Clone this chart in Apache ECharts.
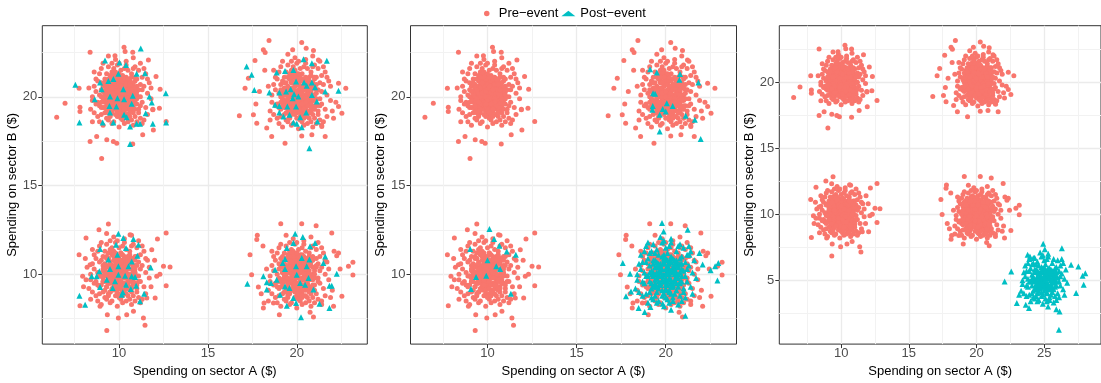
<!DOCTYPE html>
<html><head><meta charset="utf-8">
<script src="https://cdn.jsdelivr.net/npm/echarts@6/dist/echarts.min.js"></script>
<style>html,body{margin:0;padding:0;background:#fff}#c{width:1101px;height:383px}</style>
</head><body><div id="c"></div>
<script>
// ---- Pre-event clusters (shared by all three panels) ----
const preA = [[10.2,20.1],[9.6,19.8],[10.8,20.4],[9.1,20.6],[10.5,19.3],[9.9,21.2],[11.2,20.0],[8.9,19.5],[10.0,19.0],[10.6,21.0],[9.4,20.2],[10.3,20.8],[9.8,19.4],[11.0,19.6],[9.2,21.0],[10.7,19.9],[9.5,18.9],[10.1,21.5],[8.7,20.3],[11.4,20.6],[10.4,19.6],[9.7,20.6],[10.9,20.9],[9.3,19.2],[10.0,20.3],[11.1,19.1],[8.8,20.9],[10.2,18.7],[9.6,21.4],[10.8,19.4],[9.0,20.0],[10.5,20.6],[9.9,19.9],[11.6,20.2],[9.4,21.7],[10.3,19.2],[8.5,19.8],[10.7,21.3],[9.7,18.6],[11.3,21.1],[10.1,20.0],[9.2,19.7],[10.6,18.9],[9.5,20.9],[10.9,20.2],[8.9,21.3],[10.4,21.8],[9.8,20.5],[11.0,18.6],[9.3,20.4],[10.2,19.5],[8.6,20.6],[11.5,19.4],[9.6,19.1],[10.8,21.6],[9.1,18.4],[10.0,21.0],[11.2,20.7],[9.7,20.0],[10.5,19.0],[8.4,19.3],[10.3,20.3],[9.4,18.7],[11.8,19.9],[9.9,21.8],[10.6,20.1],[9.0,21.6],[10.9,18.9],[9.5,19.6],[10.1,19.3],[11.3,20.4],[8.8,18.9],[10.4,20.9],[9.8,22.1],[10.7,19.2],[9.2,20.3],[11.1,21.5],[9.6,20.7],[10.0,18.3],[10.8,20.0],[8.7,21.0],[11.6,19.0],[9.3,21.3],[10.2,21.2],[9.9,18.9],[10.5,20.3],[9.0,19.0],[11.0,20.3],[9.7,21.1],[10.3,18.5],[8.5,20.0],[10.6,19.7],[9.4,19.4],[11.4,21.6],[10.0,20.6],[9.1,20.0],[10.9,19.6],[9.8,20.2],[10.4,22.0],[9.5,21.2],[11.2,18.8],[8.9,20.1],[10.1,19.7],[9.6,18.5],[10.7,20.7],[11.7,20.8],[9.2,19.1],[10.3,21.6],[9.9,20.4],[10.5,18.6],[8.6,19.1],[11.0,21.0],[9.4,20.0],[10.2,20.4],[9.7,19.3],[10.8,18.4],[9.0,20.8],[11.3,19.7],[10.0,21.9],[9.3,18.8],[10.6,20.4],[8.8,19.7],[11.5,21.3],[9.8,19.6],[10.4,19.0],[9.5,20.5],[10.9,21.7],[9.1,21.9],[10.1,18.8],[11.1,19.3],[9.6,20.3],[10.7,18.7],[8.3,20.5],[10.3,19.9],[9.9,20.9],[11.8,20.5],[9.2,19.9],[10.5,21.5],[9.7,21.6],[10.0,19.5],[11.4,18.7],[8.9,18.6],[10.6,19.3],[9.4,21.0],[10.2,19.0],[9.8,21.4],[11.0,20.6],[9.3,20.0],[10.8,19.1],[8.7,19.6],[10.4,20.5],[9.5,19.0],[11.2,21.9],[9.0,19.4],[10.1,20.8],[9.6,21.9],[10.9,20.0],[11.6,21.0],[9.9,19.2],[10.3,18.9],[8.6,21.4],[10.7,21.1],[9.2,20.6],[11.3,18.5],[10.0,20.1],[9.7,19.7],[10.5,20.0],[8.5,18.6],[11.9,19.3],[9.4,22.3],[10.8,22.2],[9.1,19.4],
[10.0,20.0],[9.8,20.1],[10.3,19.7],[9.5,20.4],[10.6,20.5],[10.1,19.4],[9.7,19.9],[10.4,20.2],[9.9,20.7],[10.2,19.8],[9.3,19.8],[10.7,20.3],[10.0,19.6],[9.6,20.0],[10.5,20.8],[9.8,19.7],[10.9,19.8],[9.4,20.6],[10.3,20.0],[10.1,20.5],[9.7,19.5],[10.6,19.5],[9.5,20.2],[10.2,20.6],[9.9,19.7],[11.0,20.1],[9.2,20.2],[10.4,19.4],[10.0,20.9],[9.6,19.6],[10.8,20.6],[9.8,20.9],[10.3,19.5],[9.4,19.9],[10.6,20.2],[10.1,20.3],[9.7,20.4],[10.5,19.8],[9.9,20.0],[10.2,19.2],[9.1,20.3],[10.7,19.6],[10.0,20.4],[9.5,19.4],[10.4,21.1],[9.8,19.3],[10.9,20.5],[9.3,20.7],[10.3,20.6],[9.6,20.9],[10.1,19.9],[10.6,20.9],[9.9,21.0],[10.0,19.3],[9.4,19.6],[10.8,19.8],[9.7,20.2],[10.4,19.9],[9.2,19.4],[10.2,20.9],[11.1,20.4],[9.5,21.0],[10.5,19.5],[9.8,20.6],[10.3,21.0],[9.0,20.4],[10.7,20.1],[10.0,19.8],[9.6,19.3],[10.9,21.1],[9.3,20.5],[10.1,21.1],[9.9,19.5],[10.6,19.1],[9.7,21.3],[10.4,20.7],[9.4,19.1],[11.0,19.9],[10.2,20.2],[9.8,19.0],[10.5,20.4],[9.1,19.8],[10.8,20.8],[10.0,20.7],[9.6,20.5],[10.3,19.3],[9.5,19.7],[10.7,19.4],[9.9,20.3],[10.1,19.1],[9.2,20.8],[10.6,20.7],[10.4,19.7],[9.7,20.8],[10.0,21.3],[9.3,19.5],[10.9,19.3],[9.8,21.1],[10.2,19.6],[9.5,19.2],[10.5,21.0],[11.2,19.5],[9.4,20.4],[10.3,20.4],[9.9,19.6],[10.7,20.4],[9.0,19.7],[10.1,20.6],[9.6,21.1],[10.8,19.9],
[6.49,18.85],[6.96,19.64],[7.75,20.49],[7.8,19.42],[7.8,19.17],[8.37,22.52],[8.37,17.48],[8.74,17.77],[9.02,16.53],[9.31,17.58],[9.68,17.48],[9.87,17.39],[10.28,22.8],[10.34,22.55],[10.77,22.52],[10.77,17.35],[11.33,17.86],[11.93,18.14],[12.31,20.43],[12.65,18.61],[11.9,19.27],[12.27,19.36],[11.65,22.08],[12.08,21.15],[9.77,22.31]];
const preB = [[20.3,20.2],[19.7,19.6],[20.9,20.5],[19.2,20.9],[20.6,19.2],[20.0,21.3],[21.3,19.9],[19.0,19.4],[20.2,18.9],[20.7,21.1],[19.5,20.1],[20.4,20.7],[19.9,19.3],[21.1,19.5],[19.3,21.1],[20.8,19.8],[19.6,18.8],[20.2,21.6],[18.8,20.4],[21.5,20.7],[20.5,19.5],[19.8,20.5],[21.0,21.0],[19.4,19.1],[20.1,20.2],[21.2,19.0],[18.9,21.0],[20.3,18.6],[19.7,21.5],[20.9,19.3],[19.1,20.0],[20.6,20.5],[20.0,19.8],[21.7,20.1],[19.5,21.8],[20.4,19.1],[18.6,19.7],[20.8,21.4],[19.8,18.5],[21.4,21.2],[20.2,20.0],[19.3,19.7],[20.7,18.8],[19.6,21.0],[21.0,20.1],[19.0,21.4],[20.5,21.9],[19.9,20.6],[21.1,18.5],[19.4,20.3],[20.3,19.4],[18.7,20.7],[21.6,19.3],[19.7,19.0],[20.9,21.7],[19.2,18.3],[20.1,21.1],[21.3,20.8],[19.8,20.0],[20.6,18.9],[18.5,19.2],[20.4,20.4],[19.5,18.6],[21.9,19.8],[20.0,21.9],[20.7,20.0],[19.1,21.7],[21.0,18.8],[19.6,19.5],[20.2,19.2],[21.4,20.3],[18.9,18.8],[20.5,21.0],[19.9,22.2],[20.8,19.1],[19.3,20.2],[21.2,21.6],[19.7,20.8],[20.1,18.2],[20.9,20.1],[18.8,21.1],[21.7,18.9],[19.4,21.4],[20.3,21.3],[20.0,18.8],[20.6,20.2],[19.1,18.9],[21.1,20.4],[19.8,21.2],[20.4,18.4],[18.6,20.1],[20.7,19.6],[19.5,19.3],[21.5,21.7],[20.1,20.7],[19.2,19.9],[21.0,19.5],[19.9,20.1],[20.5,22.1],[19.6,21.3],[21.3,18.7],[19.0,20.2],[20.2,19.6],[19.7,18.4],[20.8,20.8],[21.8,20.9],[19.3,19.0],[20.4,21.7],[20.0,20.3],[20.6,18.5],[18.7,19.0],[21.1,21.1],[19.5,19.9],[20.3,20.5],[19.8,19.2],[20.9,18.3],[19.1,20.7],[21.4,19.6],[20.1,22.0],[19.4,18.7],[20.7,20.3],[18.9,19.6],[21.6,21.4],[19.9,19.5],[20.5,18.9],[19.6,20.4],[21.0,21.8],[19.2,22.0],[20.2,18.7],[21.2,19.2],[19.7,20.2],[20.8,18.6],[18.4,20.6],[20.4,19.8],[20.0,21.0],[21.9,20.6],[19.3,19.8],[20.6,21.6],[19.8,21.7],[20.1,19.4],[21.5,18.6],[19.0,18.5],[20.7,19.2],[19.5,21.1],[20.3,18.9],[19.9,21.5],[21.1,20.7],[19.4,20.1],[20.9,19.0],[18.8,19.5],[20.5,20.6],[19.6,18.9],[21.3,22.0],[19.1,19.3],[20.2,20.9],[19.7,22.0],[21.0,19.9],[21.7,21.1],[20.0,19.1],[20.4,18.8],[18.7,21.5],[20.8,21.2],[19.3,20.5],[21.4,18.4],[20.1,20.1],[19.8,19.8],[20.6,19.9],[18.5,18.7],[22.0,19.2],[19.5,22.4],[20.9,22.3],[19.2,19.5],[17.9,20.3],[17.7,19.6],[22.2,19.7],[18.2,21.5],
[20.1,20.0],[19.9,20.3],[20.4,19.7],[19.6,20.2],[20.7,20.6],[20.2,19.4],[19.8,19.9],[20.5,20.1],[20.0,20.8],[20.3,19.8],[19.4,19.7],[20.8,20.3],[20.1,19.6],[19.7,20.0],[20.6,20.9],[19.9,19.7],[21.0,19.8],[19.5,20.6],[20.4,20.0],[20.2,20.5],[19.8,19.4],[20.7,19.5],[19.6,20.3],[20.3,20.6],[20.0,19.7],[21.1,20.2],[19.3,20.1],[20.5,19.4],[20.1,20.9],[19.7,19.7],[20.9,20.6],[19.9,20.9],[20.4,19.5],[19.5,19.9],[20.7,20.2],[20.2,20.3],[19.8,20.4],[20.6,19.8],[20.0,20.0],[20.3,19.2],[19.2,20.3],[20.8,19.6],[20.1,20.4],[19.6,19.4],[20.5,21.1],[19.9,19.2],[21.0,20.5],[19.4,20.8],[20.4,20.6],[19.7,20.9],[20.2,19.9],[20.7,20.9],[20.0,21.1],[20.1,19.3],[19.5,19.6],[20.9,19.8],[19.8,20.2],[20.5,19.9],[19.3,19.4],[20.3,20.9],[21.2,20.4],[19.6,21.0],[20.6,19.5],[19.9,20.6],[20.4,21.0],[19.1,20.4],[20.8,20.1],[20.1,19.8],[19.7,19.3],[21.0,21.1],[19.4,20.5],[20.2,21.1],[20.0,19.5],[20.7,19.1],[19.8,21.3],[20.5,20.7],[19.5,19.1],[21.1,19.9],[20.3,20.2],[19.9,19.0],[20.6,20.4],[19.2,19.8],[20.9,20.8],[20.1,20.7],[19.7,20.5],[20.4,19.3],[19.6,19.7],[20.8,19.4],[20.0,20.3],[20.2,19.1],[19.3,20.8],[20.7,20.7],[20.5,19.7],[19.8,20.8],[20.1,21.3],[19.4,19.5],[21.0,19.3],[19.9,21.1],[20.3,19.6],[19.6,19.2],[20.6,21.0],[21.3,19.5],[19.5,20.4],[20.4,20.4],[20.0,19.6],[20.8,20.4],[19.1,19.7],[20.2,20.6],[19.7,21.1],[20.9,19.9],
[16.77,18.93],[17.09,20.49],[18.44,23.17],[20.28,23.06],[18.12,22.65],[18.22,22.5],[19.77,22.65],[20.53,22.74],[20.94,22.61],[17.65,22.05],[17.28,21.05],[22.76,20.49],[22.35,20.77],[22.54,19.08],[22.35,19.46],[21.6,17.77],[19.34,17.39],[18.59,17.77],[17.75,18.52],[17.56,18.99],[18.31,18.24],[20.28,17.8],[20.85,17.86],[21.41,18.33],[22.07,18.8],[21.22,22.08]];
const preC = [[10.1,10.2],[9.5,9.7],[10.7,10.6],[9.0,10.8],[10.4,9.2],[9.8,11.2],[11.1,9.9],[8.8,9.4],[9.9,8.9],[10.5,11.0],[9.3,10.1],[10.2,10.7],[9.7,9.3],[10.9,9.5],[9.1,11.0],[10.6,9.8],[9.4,8.8],[10.0,11.5],[8.6,10.3],[11.3,10.5],[10.3,9.5],[9.6,10.5],[10.8,10.9],[9.2,9.1],[9.9,10.2],[11.0,9.0],[8.7,10.9],[10.1,8.6],[9.5,11.4],[10.7,9.3],[8.9,9.9],[10.4,10.5],[9.8,9.8],[11.5,10.1],[9.3,11.7],[10.2,9.1],[8.4,9.7],[10.6,11.3],[9.6,8.5],[11.2,11.1],[10.0,9.9],[9.1,9.6],[10.5,8.8],[9.4,10.9],[10.8,10.1],[8.8,11.3],[10.3,11.8],[9.7,10.4],[10.9,8.5],[9.2,10.3],[10.1,9.4],[8.5,10.6],[11.4,9.3],[9.5,9.0],[10.7,11.6],[9.0,8.3],[9.9,11.0],[11.1,10.7],[9.6,9.9],[10.4,8.9],[8.3,9.2],[10.2,10.3],[9.3,8.6],[11.7,9.8],[9.8,11.8],[10.5,10.0],[8.9,11.6],[10.8,8.8],[9.4,9.5],[10.0,9.2],[11.2,10.3],[8.7,8.8],[10.3,10.9],[9.7,12.1],[10.6,9.1],[9.1,10.2],[11.0,11.5],[9.5,10.7],[9.9,8.2],[10.7,10.0],[8.6,11.1],[11.5,8.9],[9.2,11.3],[10.1,11.2],[9.8,8.8],[10.4,10.2],[8.9,8.9],[10.9,10.3],[9.6,11.1],[10.2,8.4],[8.4,10.0],[10.5,9.6],[9.3,9.3],[11.3,11.6],[9.9,10.6],[9.0,9.9],[10.8,9.5],[9.7,10.1],[10.3,12.0],[9.4,11.2],[11.1,8.7],[8.8,10.1],[10.0,9.6],[9.5,8.4],[10.6,10.7],[11.6,10.8],[9.1,9.0],[10.2,11.6],[9.8,10.3],[10.4,8.5],[8.5,9.0],[10.9,11.0],[9.3,9.9],[10.1,10.4],[9.6,9.2],[10.7,8.3],[8.9,10.7],[11.2,9.6],[9.9,11.9],[9.2,8.7],[10.5,10.4],[8.7,9.6],[11.4,11.3],[9.7,9.5],[10.3,8.9],[9.4,10.4],[10.8,11.7],[9.0,11.8],[10.0,8.7],[11.0,9.2],[9.5,10.2],[10.6,8.6],[8.2,10.4],[10.2,9.8],[9.8,10.8],[11.7,10.4],[9.1,9.8],[10.4,11.4],[9.6,11.5],[9.9,9.4],[11.3,8.6],[8.8,8.5],[10.5,9.2],[9.3,11.0],[10.1,8.9],[9.7,11.3],[10.9,10.5],[9.2,10.0],[10.7,9.0],[8.6,9.5],[10.3,10.4],[9.4,8.9],[11.1,11.9],[8.9,9.3],[10.0,10.8],[9.5,11.9],[10.8,9.9],[11.5,10.9],[9.8,9.1],[10.2,8.8],[8.5,11.4],[10.6,11.1],[9.1,10.5],[11.2,8.4],[9.9,10.0],[9.6,9.7],[10.4,9.8],[8.4,8.6],[11.8,9.3],[9.3,12.3],[10.7,12.2],[9.0,9.4],[12.3,10.0],[12.0,10.8],[8.0,9.3],[8.1,10.9],
[10.1,10.1],[9.7,10.2],[10.4,9.8],[9.6,10.5],[10.5,10.6],[10.0,9.5],[9.8,10.0],[10.3,10.3],[10.0,10.8],[10.1,9.7],[9.4,9.9],[10.8,10.2],[9.9,9.5],[9.5,10.1],[10.4,10.7],[9.7,9.8],[10.8,9.7],[9.3,10.5],[10.2,10.1],[10.0,10.4],[9.8,9.6],[10.5,9.4],[9.6,10.3],[10.3,10.5],[10.0,9.8],[10.9,10.0],[9.3,10.1],[10.5,9.3],[10.1,10.8],[9.5,9.5],[10.7,10.7],[9.9,10.8],[10.2,9.4],[9.5,9.8],[10.7,10.3],[10.0,10.2],[9.8,10.5],[10.4,9.9],[9.8,10.1],[10.3,9.1],[9.2,10.4],[10.6,9.7],[10.1,10.5],[9.4,9.5],[10.3,11.0],[9.9,9.2],[10.8,10.4],[9.2,10.6],[10.4,10.5],[9.7,10.8],[10.2,10.0],[10.7,10.8],[9.8,10.9],[10.1,9.2],[9.5,9.7],[10.9,9.9],[9.6,10.1],[10.5,10.0],[9.3,9.3],[10.3,10.8],[11.0,10.5],[9.4,10.9],[10.6,9.6],[9.9,10.5],[10.2,11.1],[9.1,10.3],[10.8,10.0],[10.1,9.9],[9.7,9.2],[11.0,11.0],[9.2,10.0],[10.0,11.0],[9.8,9.4],[10.7,9.2],[9.6,11.2],[10.5,10.6],[9.5,9.0],[10.9,10.8],[10.3,10.1],[9.9,9.1],[10.4,10.3],[9.0,9.9],[10.7,10.9],[10.1,10.7],[9.5,10.6],[10.4,9.4],[9.4,9.8],[10.8,9.5],[10.0,10.3],[10.2,9.0],[9.3,10.9],[10.5,10.8],[10.3,9.8],[9.8,10.7],[10.1,11.2],[9.2,9.6],[11.0,9.4],[9.7,11.0],[10.1,9.6],[9.6,9.1],[10.6,11.0],[11.1,9.6],[9.5,10.3],[10.2,10.4],[9.8,9.7],[10.6,10.3],[9.1,9.6],[10.0,10.6],[9.7,11.1],[10.9,10.1],
[9.31,6.83],[11.46,7.13],[11.37,7.54],[9.96,7.54],[9.34,7.73],[7.8,8.23],[7.75,11.11],[8.14,12.05],[8.87,12.52],[9.4,12.84],[10.62,12.23],[12.16,11.99],[12.65,12.33],[12.87,10.41],[12.5,10.45],[12.65,9.36],[12.12,9.89],[11.84,11.39],[11.56,8.67],[12.03,8.67],[8.14,9.7],[7.95,9.89],[8.93,8.2],[10.43,7.73],[10.81,7.92],[8.37,10.54]];
const preD = [[20.2,10.1],[19.6,9.6],[20.8,10.5],[19.1,10.9],[20.5,9.1],[19.9,11.1],[21.2,9.8],[18.9,9.3],[20.0,8.8],[20.6,10.9],[19.4,10.0],[20.3,10.6],[19.8,9.2],[21.0,9.4],[19.2,11.0],[20.7,9.7],[19.5,8.7],[20.1,11.4],[18.7,10.2],[21.4,10.4],[20.4,9.4],[19.7,10.4],[20.9,10.8],[19.3,9.0],[20.0,10.1],[21.1,8.9],[18.8,10.8],[20.2,8.5],[19.6,11.3],[20.8,9.2],[19.0,9.8],[20.5,10.4],[19.9,9.7],[21.6,10.0],[19.4,11.6],[20.3,9.0],[18.5,9.6],[20.7,11.2],[19.7,8.4],[21.3,11.0],[20.1,9.8],[19.2,9.5],[20.6,8.7],[19.5,10.8],[20.9,10.0],[18.9,11.2],[20.4,11.7],[19.8,10.3],[21.0,8.4],[19.3,10.2],[20.2,9.3],[18.6,10.5],[21.5,9.2],[19.6,8.9],[20.8,11.5],[19.1,8.2],[20.0,10.9],[21.2,10.6],[19.7,9.8],[20.5,8.8],[18.4,9.1],[20.3,10.2],[19.4,8.5],[21.8,9.7],[19.9,11.7],[20.6,9.9],[19.0,11.5],[20.9,8.7],[19.5,9.4],[20.1,9.1],[21.3,10.2],[18.8,8.7],[20.4,10.8],[19.8,12.0],[20.7,9.0],[19.2,10.1],[21.1,11.4],[19.6,10.6],[20.0,8.1],[20.8,9.9],[18.7,11.0],[21.6,8.8],[19.3,11.2],[20.2,11.1],[19.9,8.7],[20.5,10.1],[19.0,8.8],[21.0,10.2],[19.7,11.0],[20.3,8.3],[18.5,9.9],[20.6,9.5],[19.4,9.2],[21.4,11.5],[20.0,10.5],[19.1,9.7],[20.9,9.4],[19.8,10.0],[20.4,11.9],[19.5,11.1],[21.2,8.6],[18.9,10.0],[20.1,9.5],[19.6,8.3],[20.7,10.6],[21.7,10.7],[19.2,8.9],[20.3,11.5],[19.9,10.2],[20.5,8.4],[18.6,8.9],[21.1,10.9],[19.4,9.8],[20.2,10.3],[19.7,9.1],[20.8,8.2],[19.0,10.6],[21.3,9.5],[20.0,11.8],[19.3,8.6],[20.6,10.3],[18.8,9.5],[21.5,11.2],[19.8,9.4],[20.4,8.8],[19.5,10.3],[20.9,11.6],[19.1,11.7],[20.1,8.6],[21.0,9.1],[19.6,10.1],[20.7,8.5],[18.3,10.3],[20.3,9.7],[19.9,10.7],[21.8,10.3],[19.2,9.7],[20.5,11.3],[19.7,11.4],[20.0,9.3],[21.4,8.5],[18.9,8.4],[20.6,9.2],[19.4,10.9],[20.2,8.8],[19.8,11.3],[21.1,10.4],[19.3,9.9],[20.8,8.9],[18.7,9.4],[20.4,10.3],[19.5,8.8],[21.2,11.8],[19.0,9.2],[20.1,10.7],[19.6,11.8],[20.9,9.8],[21.6,10.8],[19.9,9.0],[20.3,8.7],[18.6,11.3],[20.7,11.0],[19.2,10.4],[21.4,8.3],[20.0,9.9],[19.7,9.6],[20.5,9.8],[18.4,8.5],[22.0,9.1],[19.4,12.2],[20.8,12.1],[19.1,9.3],[21.9,8.7],[22.1,11.3],[18.1,11.6],[18.0,8.9],
[20.0,10.1],[19.8,10.2],[20.3,9.8],[19.5,10.3],[20.6,10.5],[20.1,9.5],[19.7,10.0],[20.4,10.3],[19.9,10.8],[20.2,9.7],[19.3,9.9],[20.7,10.2],[20.0,9.5],[19.6,10.1],[20.5,10.7],[19.8,9.8],[20.9,9.7],[19.4,10.5],[20.3,10.1],[20.1,10.4],[19.7,9.6],[20.6,9.4],[19.5,10.2],[20.2,10.5],[19.9,9.8],[21.0,10.0],[19.2,10.1],[20.4,9.3],[20.0,10.8],[19.6,9.5],[20.8,10.7],[19.8,10.8],[20.3,9.4],[19.4,9.8],[20.6,10.3],[20.1,10.2],[19.7,10.5],[20.5,9.9],[19.9,10.1],[20.2,9.1],[19.1,10.4],[20.7,9.7],[20.0,10.5],[19.5,9.5],[20.4,11.0],[19.8,9.2],[20.9,10.4],[19.3,10.6],[20.3,10.5],[19.6,10.8],[20.1,10.0],[20.6,10.8],[19.9,10.9],[20.0,9.2],[19.4,9.7],[20.8,9.9],[19.7,10.3],[20.4,10.0],[19.2,9.3],[20.2,10.8],[21.1,10.5],[19.5,10.9],[20.5,9.6],[19.8,10.5],[20.3,11.1],[19.0,10.3],[20.7,10.0],[20.0,9.9],[19.6,9.2],[20.9,11.0],[19.3,10.4],[20.1,11.0],[19.9,9.4],[20.6,9.2],[19.7,11.2],[20.4,10.6],[19.4,9.0],[21.0,9.8],[20.2,10.2],[19.8,9.1],[20.5,10.3],[19.1,9.7],[20.8,10.9],[20.0,10.6],[19.6,10.4],[20.3,9.2],[19.5,9.8],[20.7,9.3],[19.9,10.4],[20.1,9.0],[19.2,10.7],[20.6,10.6],[20.4,9.8],[19.7,10.7],[20.0,11.2],[19.3,9.6],[20.9,9.2],[19.8,11.0],[20.2,9.5],[19.5,9.1],[20.5,10.9],[21.2,9.6],[19.4,10.3],[20.3,10.4],[19.9,9.5],[20.7,10.5],[19.0,9.6],[20.1,10.7],[19.6,11.0],[20.8,9.8],
[19.1,12.85],[20.28,12.85],[21.09,12.74],[21.97,12.33],[17.78,12.21],[17.75,11.97],[17.37,11.11],[17.46,9.98],[17.84,9.29],[18.16,8.39],[19.02,7.73],[20.94,7.6],[20.75,7.86],[22.07,8.2],[22.54,8.76],[22.44,10.3],[22.91,10.45],[23.16,10.68],[23.16,9.96],[22.35,11.2],[22.25,11.05],[18.12,8.1],[18.69,8.39]];

// ---- Post-event, panel 1 (small samples at each of the four clusters) ----
const post1A = [[7.54,20.68],[7.77,18.55],[9.21,22.05],[11.22,22.72],[10.02,21.93],[10.39,21.8],[11.46,21.33],[10.99,21.3],[8.93,20.81],[9.4,20.9],[9.68,21.0],[9.96,21.3],[9.02,20.43],[8.63,19.87],[9.49,20.02],[9.91,19.92],[10.24,20.43],[10.77,20.06],[10.71,19.61],[10.28,19.87],[9.46,19.49],[9.85,19.46],[9.49,19.12],[10.43,18.85],[10.28,18.99],[9.68,18.55],[9.08,18.55],[10.62,18.33],[10.99,18.48],[11.18,18.48],[11.5,19.08],[11.71,20.02],[11.84,19.68],[11.9,18.48],[12.63,20.21],[12.65,18.55],[10.62,17.35]];
const post1B = [[17.18,21.71],[17.46,21.24],[17.61,20.39],[20.38,22.12],[21.69,22.03],[20.85,21.9],[19.81,21.52],[19.34,21.46],[18.87,21.37],[19.96,20.86],[20.41,20.81],[20.85,20.81],[18.46,20.24],[19.02,20.24],[19.4,20.3],[19.66,20.43],[19.85,20.15],[19.77,19.92],[20.09,20.02],[20.56,20.62],[21.03,20.54],[21.6,20.3],[22.35,20.34],[20.85,20.11],[21.13,19.74],[18.78,19.55],[19.02,19.49],[19.47,19.46],[19.96,19.46],[19.59,18.99],[19.25,18.89],[19.81,18.55],[20.0,18.48],[20.19,18.85],[20.28,18.29],[21.16,18.61],[20.71,17.11],[20.53,19.12],[19.02,19.12]];
const post1C = [[9.96,12.29],[10.24,12.05],[10.81,11.99],[11.09,11.67],[8.93,11.43],[9.83,11.67],[10.39,11.48],[9.91,11.11],[9.4,10.83],[10.71,10.73],[11.03,11.05],[10.53,10.45],[9.96,10.45],[9.49,10.3],[8.89,10.17],[8.46,9.89],[8.74,9.89],[9.31,9.7],[9.77,9.61],[9.96,9.98],[10.34,9.92],[10.71,9.89],[10.9,9.85],[10.39,9.42],[10.96,9.36],[9.64,9.23],[8.93,9.29],[10.21,8.99],[10.15,8.85],[11.41,8.91],[11.78,10.39],[11.18,8.48],[7.77,8.8],[8.09,8.29],[10.66,9.17]];
const post1D = [[19.91,12.29],[20.34,12.1],[21.03,11.77],[20.75,11.58],[19.81,11.77],[19.44,11.48],[21.6,11.01],[20.28,10.92],[19.34,10.86],[19.21,10.64],[20.71,10.83],[21.5,10.64],[19.96,10.45],[18.78,10.26],[19.34,10.3],[20.56,10.45],[22.25,10.04],[18.12,9.89],[18.31,9.55],[18.55,9.51],[18.87,9.7],[19.34,9.32],[19.59,9.23],[20.19,9.51],[20.47,9.42],[20.66,9.79],[20.0,9.98],[20.94,9.14],[21.84,9.36],[21.97,9.36],[19.06,8.85],[19.81,8.67],[19.44,8.23],[19.96,8.38],[21.28,8.35],[21.84,8.1],[20.24,7.58],[17.22,9.47],[18.31,9.14]];

// ---- Post-event, panel 2 ----
const post2C = [[10.11,12.55],[10.37,11.99],[10.67,11.61],[11.08,11.29],[11.59,11.11],[9.03,11.43],[10.0,10.79],[10.49,10.45],[10.71,10.3],[9.36,9.85],[9.93,9.92],[9.07,9.17],[11.31,8.91]];
const post2B = [[19.12,21.56],[19.5,21.37],[20.8,21.29],[20.77,20.96],[21.83,20.81],[19.29,20.21],[19.4,20.17],[19.27,19.49],[19.83,19.31],[20.06,19.64],[20.39,19.49],[19.66,18.99],[20.0,19.17],[21.12,18.93],[21.63,18.71],[19.66,18.05],[21.96,17.62],[19.25,19.27]];
const post2D = [[20.1,10.2],[19.5,9.8],[20.7,10.5],[19.0,10.9],[20.4,9.3],[19.8,11.0],[21.1,9.9],[18.8,9.5],[19.9,8.9],[20.5,10.8],[19.3,10.1],[20.2,10.6],[19.7,9.4],[20.9,9.6],[19.1,11.2],[20.6,9.9],[19.4,8.8],[20.0,11.5],[18.6,10.3],[21.3,10.5],[20.3,9.5],[19.6,10.5],[20.8,10.9],[19.2,9.2],[19.9,10.0],[21.0,9.0],[18.7,10.7],[20.1,8.6],[19.5,11.4],[20.7,9.3],[18.9,9.9],[20.4,10.4],[19.8,9.7],[21.5,10.1],[19.3,11.7],[20.2,9.1],[18.4,9.7],[20.6,11.3],[19.6,8.5],[21.2,11.1],[20.0,9.8],[19.1,9.6],[20.5,8.9],[19.4,10.8],[20.8,10.1],[18.8,11.3],[20.3,11.8],[19.7,10.3],[20.9,8.5],[19.2,10.2],[20.1,9.4],[18.5,10.6],[21.4,9.3],[19.5,9.0],[20.7,11.6],[19.0,8.4],[19.9,10.9],[21.1,10.7],[19.6,9.9],[20.4,8.7],[18.3,9.2],[20.2,10.3],[19.3,8.6],[21.7,9.8],[19.8,11.8],[20.5,10.0],[18.9,11.6],[20.8,8.8],[19.4,9.5],[20.0,9.2],[21.2,10.3],[18.7,8.8],[20.3,10.9],[19.7,12.1],[20.6,9.1],[19.1,10.1],[21.0,11.5],[19.5,10.7],[19.9,8.2],[20.7,10.0],[18.6,11.1],[21.5,8.9],[19.2,11.3],[20.1,11.2],[19.8,8.8],[20.4,10.2],[18.9,8.9],[20.9,10.3],[19.6,11.1],[20.2,8.4],[18.4,10.0],[20.5,9.6],[19.3,9.3],[21.3,11.6],[19.9,10.6],[19.0,9.9],[20.8,9.5],[19.7,10.1],[20.3,12.0],[19.4,11.2],[21.1,8.7],[18.8,10.1],[20.0,9.6],[19.5,8.4],[20.6,10.7],[21.6,10.8],[19.1,9.0],[20.2,11.6],[19.8,10.3],[20.4,8.5],[18.5,9.0],[20.9,11.0],[19.3,9.9],[20.1,10.4],[19.6,9.2],[20.7,8.3],[18.9,10.7],[21.2,9.6],[19.9,11.9],[19.2,8.7],[20.5,10.4],[18.7,9.6],[21.4,11.3],[19.7,9.5],[20.3,8.9],[19.4,10.4],[20.8,11.7],[19.0,11.8],[20.0,8.7],[21.0,9.2],
[20.0,10.0],[19.7,10.2],[20.3,9.7],[19.5,10.4],[20.6,10.6],[20.1,9.6],[19.8,9.9],[20.4,10.1],[19.9,10.7],[20.2,9.8],[19.4,10.0],[20.7,10.4],[20.0,9.4],[19.6,10.0],[20.5,10.6],[19.9,9.6],[20.9,9.9],[19.3,10.6],[20.3,10.2],[20.1,10.5],[19.7,9.5],[20.6,9.5],[19.5,10.1],[20.2,10.7],[19.8,9.9],[21.0,10.2],[19.2,10.0],[20.4,9.4],[20.0,10.9],[19.6,9.6],[20.8,10.6],[19.9,10.8],[20.3,9.3],[19.4,9.7],[20.6,10.1],[20.1,10.1],[19.7,10.6],[20.5,9.7],[20.0,10.3],[20.2,9.0],[19.1,10.5],[20.7,9.8],[20.1,10.8],[19.5,9.3],[20.4,10.9],[19.8,9.1],[20.9,10.6],[19.3,10.8],[20.3,10.7],[19.6,10.6],[20.2,10.0],[20.6,10.8],[19.9,11.1],[20.0,9.1],[19.4,9.4],[20.8,9.6],[19.7,10.4],[20.5,10.2],[19.2,9.5],[20.3,11.0],
[17.59,10.64],[17.77,8.76],[18.05,9.04],[18.0,10.04],[18.48,8.1],[18.82,7.88],[19.14,8.16],[19.79,12.89],[19.88,12.42],[21.23,12.51],[22.95,10.64],[22.9,9.66],[22.52,10.23],[22.77,10.45],[21.1,7.67],[20.3,8.01],[19.83,8.35],[22.07,10.55],[21.89,11.2],[21.33,11.11]];

// ---- Post-event, panel 3 (shifted cluster) ----
const post3 = [[25.1,5.2],[24.5,4.8],[25.7,5.5],[24.0,5.9],[25.4,4.3],[24.8,6.0],[26.1,4.9],[23.8,4.5],[24.9,3.9],[25.5,5.8],[24.3,5.1],[25.2,5.6],[24.7,4.4],[25.9,4.6],[24.1,6.2],[25.6,4.9],[24.4,3.8],[25.0,6.5],[23.6,5.3],[26.3,5.5],[25.3,4.5],[24.6,5.5],[25.8,5.9],[24.2,4.2],[24.9,5.0],[26.0,4.0],[23.7,5.7],[25.1,3.6],[24.5,6.4],[25.7,4.3],[23.9,4.9],[25.4,5.4],[24.8,4.7],[26.5,5.1],[24.3,6.7],[25.2,4.1],[23.4,4.7],[25.6,6.3],[24.6,3.5],[26.2,6.1],[25.0,4.8],[24.1,4.6],[25.5,3.9],[24.4,5.8],[25.8,5.1],[23.8,6.3],[25.3,6.8],[24.7,5.3],[25.9,3.5],[24.2,5.2],[25.1,4.4],[23.5,5.6],[26.4,4.3],[24.5,4.0],[25.7,6.6],[24.0,3.4],[24.9,5.9],[26.1,5.7],[24.6,4.9],[25.4,3.7],[23.3,4.2],[25.2,5.3],[24.3,3.6],[26.7,4.8],[24.8,6.8],[25.5,5.0],[23.9,6.6],[25.8,3.8],[24.4,4.5],[25.0,4.2],[26.2,5.3],[23.7,3.8],[25.3,5.9],[24.7,7.1],[25.6,4.1],[24.1,5.1],[26.0,6.5],[24.5,5.7],[24.9,3.2],[25.7,5.0],[23.6,6.1],[26.5,3.9],[24.2,6.3],[25.1,6.2],[24.8,3.8],[25.4,5.2],[23.9,3.9],[25.9,5.3],[24.6,6.1],[25.2,3.4],[23.4,5.0],[25.5,4.6],[24.3,4.3],[26.3,6.6],[24.9,5.6],[24.0,4.9],[25.8,4.5],[24.7,5.1],[25.3,7.0],[24.4,6.2],[26.1,3.7],[23.8,5.1],[25.0,4.6],[24.5,3.4],[25.6,5.7],[26.6,5.8],[24.1,4.0],[25.2,6.6],[24.8,5.3],[25.4,3.5],[23.5,4.0],[25.9,6.0],[24.3,4.9],[25.1,5.4],[24.6,4.2],[25.7,3.3],[23.9,5.7],[26.2,4.6],[24.9,6.9],[24.2,3.7],[25.5,5.4],[23.7,4.6],[26.4,6.3],[24.7,4.5],
[25.0,5.0],[24.7,5.2],[25.3,4.7],[24.5,5.3],[25.6,5.6],[25.1,4.6],[24.8,4.9],[25.4,5.1],[24.9,5.7],[25.2,4.8],[24.4,5.0],[25.7,5.3],[25.0,4.5],[24.6,5.0],[25.5,5.6],[24.9,4.6],[25.9,4.9],[24.3,5.6],[25.3,5.2],[25.1,5.5],[24.7,4.5],[25.6,4.4],[24.5,5.1],[25.2,5.7],[24.8,4.8],[26.0,5.2],[24.2,5.0],[25.4,4.4],[25.0,5.9],[24.6,4.6],[25.8,5.6],[24.9,5.8],[25.3,4.3],[24.4,4.7],[25.6,5.1],[25.1,5.1],[24.7,5.6],[25.5,4.7],[25.0,5.3],[25.2,4.0],[24.1,5.4],[25.7,4.8],[25.1,5.8],[24.5,4.3],[25.4,5.9],[24.8,4.1],[25.9,5.6],[24.3,5.8],[25.3,5.7],[24.6,5.6],
[26.09,1.24],[22.08,4.9],[22.57,5.66],[22.98,3.26],[23.15,3.89],[23.64,3.13],[23.88,2.88],[24.93,7.75],[25.05,7.35],[26.31,7.42],[26.99,6.16],[27.53,6.04],[28.04,5.53],[27.84,5.33],[27.92,4.65],[27.36,4.02],[25.9,2.8],[26.14,2.63],[25.29,3.0],[23.78,6.92],[23.95,6.79],[24.2,6.67]];

// ---- labels & ticks ----
const groupNames = ['Pre\u2212event', 'Post\u2212event'];
const xTitle = 'Spending on sector A ($)';
const yTitle = 'Spending on sector B ($)';
const majorTicks12 = [10, 15, 20];
const minorTicks12 = [7.5, 12.5, 17.5, 22.5];
const xMajor3 = [10, 15, 20, 25];
const xMinor3 = [7.5, 12.5, 17.5, 22.5, 27.5];
const yMajor3 = [5, 10, 15, 20];
const yMinor3 = [2.5, 7.5, 12.5, 17.5, 22.5];

const COL_PRE = '#F8766D', COL_POST = '#00BFC4';
const FONT = 'Liberation Sans, Arial, Helvetica, sans-serif';

const pre = preA.concat(preB, preC, preD);
const panels = [
  {grid:{left:42.3, top:25.7, width:325, height:318.8}, xr:[5.68,23.97], yr:[6.07,24.01],
   xMaj:majorTicks12, xMin:minorTicks12, yMaj:majorTicks12, yMin:minorTicks12,
   post: post1A.concat(post1B, post1C, post1D)},
  {grid:{left:410.5, top:25.7, width:326, height:318.8}, xr:[5.68,23.97], yr:[6.07,24.01],
   xMaj:majorTicks12, xMin:minorTicks12, yMaj:majorTicks12, yMin:minorTicks12,
   post: post2C.concat(post2B, post2D)},
  {grid:{left:779.3, top:25.7, width:326.3, height:318.8}, xr:[5.43,29.2], yr:[0.15,24.29],
   xMaj:xMajor3, xMin:xMinor3, yMaj:yMajor3, yMin:yMinor3,
   post: post3}
];

const grids = [], xAxes = [], yAxes = [], series = [];
panels.forEach((p, i) => {
  grids.push(Object.assign({show:true, borderColor:'#333333', borderWidth:1, backgroundColor:'#fff', containLabel:false}, p.grid));
  // minor grid axes
  xAxes.push({type:'value', gridIndex:i, position:'bottom', min:p.xr[0], max:p.xr[1],
    axisLine:{show:false}, axisLabel:{show:false, customValues:p.xMin},
    axisTick:{show:false, customValues:p.xMin},
    splitLine:{show:true, lineStyle:{color:'#F2F2F2', width:1}}});
  yAxes.push({type:'value', gridIndex:i, position:'left', min:p.yr[0], max:p.yr[1],
    axisLine:{show:false}, axisLabel:{show:false, customValues:p.yMin},
    axisTick:{show:false, customValues:p.yMin},
    splitLine:{show:true, lineStyle:{color:'#F2F2F2', width:1}}});
  // major axes
  xAxes.push({type:'value', gridIndex:i, position:'bottom', offset:0, min:p.xr[0], max:p.xr[1],
    name:xTitle, nameLocation:'middle', nameGap:17,
    nameTextStyle:{color:'#000', fontSize:13, fontFamily:FONT},
    axisLine:{show:false},
    axisTick:{show:true, length:4, lineStyle:{color:'#333333', width:1}, customValues:p.xMaj},
    axisLabel:{show:true, margin:3, color:'#4D4D4D', fontSize:13, fontFamily:FONT, customValues:p.xMaj},
    splitLine:{show:true, lineStyle:{color:'#EBEBEB', width:1.3}}});
  yAxes.push({type:'value', gridIndex:i, position:'left', offset:0, min:p.yr[0], max:p.yr[1],
    name:yTitle, nameLocation:'middle', nameGap:22,
    nameTextStyle:{color:'#000', fontSize:13, fontFamily:FONT},
    axisLine:{show:false},
    axisTick:{show:true, length:4, lineStyle:{color:'#333333', width:1}, customValues:p.yMaj},
    axisLabel:{show:true, margin:5, color:'#4D4D4D', fontSize:13, fontFamily:FONT, customValues:p.yMaj},
    splitLine:{show:true, lineStyle:{color:'#EBEBEB', width:1.3}}});
  const xi = 2*i + 1, yi = 2*i + 1;
  series.push({type:'scatter', name:groupNames[0], xAxisIndex:xi, yAxisIndex:yi, data:pre,
    symbol:'circle', symbolSize:5, itemStyle:{color:COL_PRE, opacity:1}, silent:true, animation:false, z:2});
  series.push({type:'scatter', name:groupNames[1], xAxisIndex:xi, yAxisIndex:yi, data:p.post,
    symbol:'triangle', symbolSize:6, itemStyle:{color:COL_POST, opacity:1}, silent:true, animation:false, z:3});
});

const chart = echarts.init(document.getElementById('c'), null, {renderer:'canvas'});
chart.setOption({
  animation:false,
  backgroundColor:'#fff',
  textStyle:{fontFamily:FONT},
  legend:{
    left:479, top:2, itemWidth:14, itemHeight:5.5, itemGap:3,
    textStyle:{color:'#000', fontSize:13, fontFamily:FONT},
    data:[{name:groupNames[0], icon:'circle'}, {name:groupNames[1], icon:'triangle'}]
  },
  grid: grids, xAxis: xAxes, yAxis: yAxes, series: series
});
</script>
</body></html>
